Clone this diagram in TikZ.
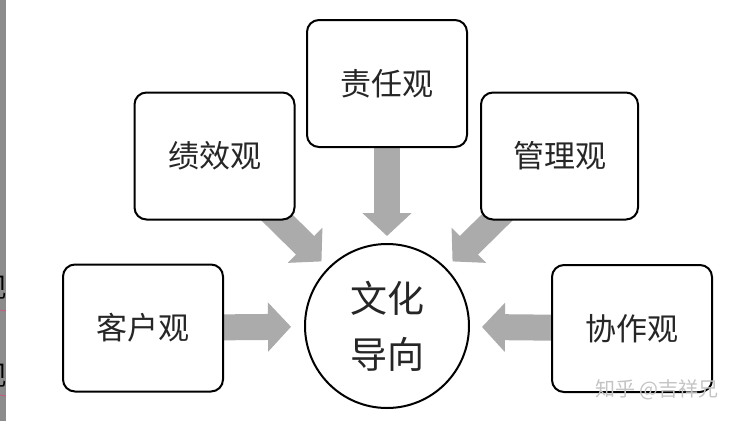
\documentclass[tikz,border=0pt]{standalone}
\usepackage{fontspec}
\newfontfamily\cjk{Noto Sans CJK SC}
\usetikzlibrary{arrows.meta}
\pgfdeclarelayer{bottom}
\pgfdeclarelayer{background}
\pgfsetlayers{bottom,background,main}
\definecolor{arrowgray}{HTML}{ABABAB}
\definecolor{txt}{HTML}{262626}
\definecolor{strip}{HTML}{8C8C8C}
\definecolor{wm}{HTML}{C4C4C4}
\definecolor{ul}{HTML}{C06080}
\tikzset{
  viewbox/.style={draw=black, line width=2pt, rounded corners=12pt, fill=white,
    minimum width=160pt, minimum height=127pt, inner sep=0pt,
    font=\cjk\fontsize{31}{36}\selectfont, text=txt},
  hub/.style={draw=black, line width=2pt, circle, fill=white, minimum size=164pt,
    inner sep=0pt, align=center, font=\cjk\fontsize{37}{56}\selectfont, text=txt},
  bigarrow/.style={draw=arrowgray, line width=26pt,
    -{Triangle[length=23pt,width=48pt]}},
}
\begin{document}
\begin{tikzpicture}[x=1pt,y=-1pt]
\useasboundingbox (0,0) rectangle (747,421);
\begin{pgfonlayer}{bottom}
\fill[white] (0,0) rectangle (747,421);
\end{pgfonlayer}
% left screenshot strip
\fill[strip] (0,0) rectangle (6,421);
\begin{scope}
  \clip (0,0) rectangle (6,421);
  \node[anchor=east, inner sep=0pt, font=\cjk\fontsize{27}{27}\selectfont, text=black] (frag1) at (7,288) {观};
  \node[anchor=east, inner sep=0pt, font=\cjk\fontsize{27}{27}\selectfont, text=black] (frag2) at (7,376) {观};
  \draw[ul, line width=1pt] (0,310) -- (6,311);
  \draw[ul, line width=1pt] (0,395) -- (6,396);
\end{scope}
% nodes
\node[hub] (c) at (387,326) {文化\\导向};
\node[viewbox] (zeren) at (387,83.5) {责任观};
\node[viewbox] (jixiao) at (214.5,156) {绩效观};
\node[viewbox, minimum width=157pt] (guanli) at (559.5,156) {管理观};
\node[viewbox] (kehu) at (143,328) {客户观};
\node[viewbox] (xiezuo) at (632,328.5) {协作观};
% arrows behind the boxes
\begin{pgfonlayer}{background}
  \draw[bigarrow, shorten >=7pt] (zeren.center) -- (c);
  \draw[bigarrow, shorten >=9pt] (jixiao.center) -- (c);
  \draw[bigarrow, shorten >=9pt] (guanli.center) -- (c);
  \draw[bigarrow, shorten >=13pt] (kehu.center) -- (c);
  \draw[bigarrow, shorten >=12pt] (xiezuo.center) -- (c);
\end{pgfonlayer}
% watermark
\node[font=\cjk\fontsize{20}{20}\selectfont, text=wm, inner sep=0pt] (wmark) at (657,390) {知乎 @吉祥兄};
\end{tikzpicture}
\end{document}
